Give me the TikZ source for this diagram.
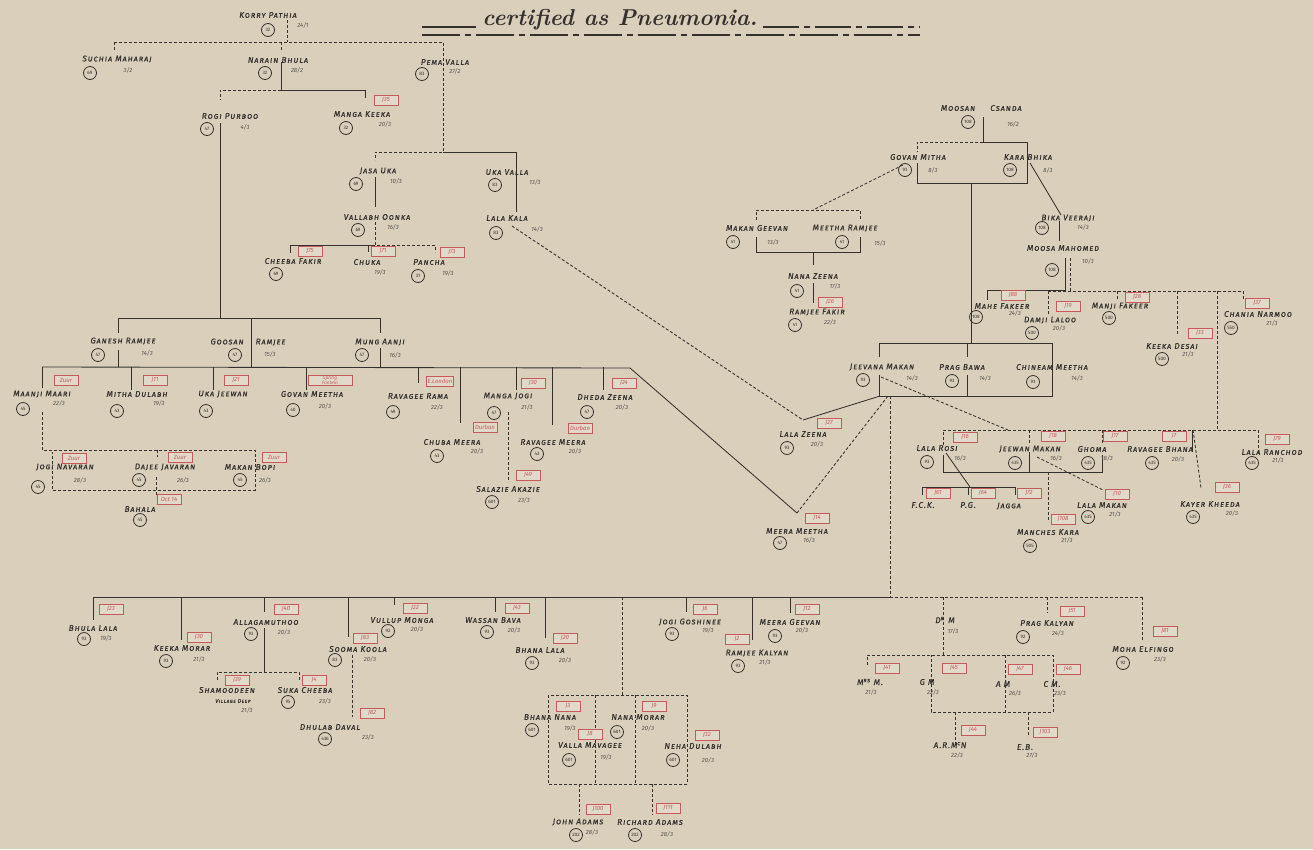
\documentclass[tikz,border=0pt]{standalone}
\usepackage{xcolor}
\usepackage{fontspec}
\newfontfamily\lblfont{Fira Sans}[LetterSpace=11, FakeBold=0.4]
\newfontfamily\dtfont{Fira Sans}
\definecolor{paper}{RGB}{218,207,187}
\definecolor{ink}{RGB}{52,49,47}
\definecolor{redink}{RGB}{198,90,90}
\tikzset{
 nm/.style={font=\lblfont\fontsize{8.3}{9}\selectfont\itshape\scshape, text=ink, inner sep=0.5pt},
 circ/.style={circle, draw=ink, line width=0.8pt, minimum size=13pt, inner sep=0pt, font=\dtfont\fontsize{4.8}{5}\selectfont, text=ink},
 dt/.style={font=\dtfont\fontsize{6}{6.5}\selectfont\itshape, text=ink!85, inner sep=0.5pt},
 rbox/.style={draw=redink, line width=0.6pt, text=redink, font=\dtfont\fontsize{6}{6.5}\selectfont\itshape, minimum width=24pt, minimum height=10pt, inner sep=1pt, fill=paper!80!white, align=center},
 ln/.style={draw=ink, line width=0.85pt},
 dl/.style={draw=ink, line width=0.85pt, dash pattern=on 3pt off 2pt},
}
\newcommand\PN[4]{\node[nm] (#1) at (#2,#3) {#4};}
\newcommand\PC[4]{\node[circ] (#1) at (#2,#3) {#4};}
\newcommand\PD[4]{\node[dt] (#1) at (#2,#3) {#4};}
\newcommand\RB[4]{\node[rbox] (#1) at (#2,#3) {#4};}
\newcommand\CO[3]{\coordinate (#1) at (#2,#3);}
\newcommand\TK[5]{\coordinate (#1a) at (#2,#3); \coordinate (#1b) at (#2,#4); \draw[#5] (#1a)--(#1b);}
\begin{document}
\begin{tikzpicture}[x=1pt,y=-1pt]
\fill[paper] (0,0) rectangle (1313,849);
\useasboundingbox (0,0) rectangle (1313,849);

% ---------------- title ----------------
\node[font=\fontsize{23}{26}\selectfont\bfseries\itshape, text=ink, inner sep=0pt] (title) at (620,20) {certified as Pneumonia.};
\CO{tlA}{422}{27}\CO{tlB}{476}{27}\CO{trA}{763}{27}\CO{trB}{920}{27}
\CO{blA}{422}{35}\CO{blB}{920}{35}
\draw[ink, line width=1.2pt] (tlA)--(tlB);
\draw[ink, line width=1.2pt, dash pattern=on 36pt off 5pt on 6pt off 5pt] (trA)--(trB);
\draw[ink, line width=1.2pt, dash pattern=on 38pt off 5pt on 6pt off 5pt] (blA)--(blB);

% ---------------- connectors: top left family ----------------
\CO{kpA}{287}{20}\CO{kpB}{287}{42}
\CO{tL}{114}{42}\CO{tR}{443}{42}\CO{smT}{114}{50}
\CO{nbS}{281}{42}\CO{nbT}{281}{50}
\CO{nbA}{281}{62}\CO{nbB}{281}{90}\CO{mkA}{365}{90}\CO{mkB}{365}{98}
\CO{rpA}{220}{90}\CO{rpB}{220}{100}\CO{rpC}{220}{123}\CO{rpD}{220}{318}
\CO{pvB}{443}{152}\CO{juA}{375}{152}\CO{juB}{375}{160}\CO{uvA}{516}{152}\CO{uvB}{516}{212}
\CO{juC}{375}{177}\CO{juD}{375}{207}
\CO{voA}{375}{222}\CO{voB}{375}{245}\CO{paA}{435}{245}\CO{paB}{435}{252}
\CO{cfA}{290}{245}\CO{cfB}{290}{253}\CO{chA}{368}{245}\CO{chB}{368}{252}
\CO{lkA}{512}{226}\CO{lzA}{803}{420}\CO{jmBL}{880}{396}
\draw[dl] (kpA)--(kpB);
\draw[dl] (tL)--(tR)--(pvB)--(juA)--(juB);
\draw[dl] (tL)--(smT);
\draw[dl] (nbS)--(nbT);
\draw[ln] (nbA)--(nbB)--(mkA)--(mkB);
\draw[dl] (nbB)--(rpA)--(rpB);
\draw[ln] (rpC)--(rpD);
\draw[ln] (pvB)--(uvA)--(uvB);
\draw[ln] (juC)--(juD);
\draw[dl] (voA)--(voB)--(paA)--(paB);
\draw[ln] (voB)--(cfA)--(cfB);
\draw[ln] (chA)--(chB);
\draw[dl] (lkA)--(lzA);
\draw[ln] (lzA)--(jmBL);

% ---------------- connectors: top right family ----------------
\CO{msA}{983}{117}\CO{msB}{983}{142}\CO{gmA}{917}{142}\CO{gmB}{917}{152}\CO{kbA}{1027}{142}\CO{kbB}{1027}{183}
\CO{gmC}{917}{163}\CO{gmD}{917}{183}
\CO{kbC}{1030}{163}\CO{bkA}{1061}{215}
\CO{mmA}{1065}{258}\CO{mmB}{1065}{290}\CO{mfA}{987}{290}\CO{mfB}{987}{300}
\CO{dlA}{1048}{291}\CO{cnA}{1243}{291}
\draw[ln] (msA)--(msB)--(kbA)--(kbB)--(gmD)--(gmC);
\draw[dl] (msB)--(gmA)--(gmB);
\TK{bv}{971}{183}{343}{ln}
\draw[ln] (kbC)--(bkA);
\TK{bk}{1059}{221}{241}{ln}
\draw[ln] (mmA)--(mmB)--(mfA)--(mfB);
\TK{mmd}{1070}{258}{291}{dl}
\draw[dl] (dlA)--(cnA);
\TK{dlt}{1048}{291}{315}{dl}
\TK{mjt}{1117}{291}{300}{dl}
\TK{kdt}{1177}{291}{335}{dl}
\TK{kvt}{1217}{291}{430}{dl}
\TK{cnt}{1243}{291}{300}{dl}

\CO{gmE}{903}{165}\CO{mgA}{813}{210}\CO{mgL}{756}{210}\CO{mgR}{860}{210}\CO{mgLb}{756}{220}\CO{mgRb}{860}{220}
\CO{mgLc}{756}{237}\CO{mgLd}{756}{252}\CO{mgRd}{860}{252}\CO{mgRc}{860}{237}
\draw[dl] (gmE)--(mgA);
\draw[dl] (mgLb)--(mgL)--(mgR)--(mgRb);
\draw[ln] (mgLc)--(mgLd)--(mgRd)--(mgRc);
\TK{nz1}{813}{252}{265}{ln}
\TK{nz2}{813}{283}{303}{ln}

% Jeevana Makan row
\CO{jvA}{879}{357}\CO{jvB}{879}{343}\CO{cmA}{1052}{343}\CO{cmB}{1052}{396}\CO{jvC}{879}{375}\CO{jvD}{879}{396}
\draw[ln] (jvA)--(jvB)--(cmA)--(cmB)--(jvD)--(jvC);
\TK{pb1}{967}{343}{357}{ln}
\TK{pb2}{967}{375}{396}{ln}
\CO{jvE}{881}{377}\CO{lrJ}{1008}{430}
\draw[dl] (jvE)--(lrJ);
\CO{rowE}{630}{368}\CO{meA}{797}{513}\CO{jvF}{888}{396}
\draw[ln] (rowE)--(meA);
\draw[dl] (meA)--(jvF);
\TK{jvv}{890}{396}{597}{dl}

% lower right group
\CO{lrA}{943}{430}\CO{lcA}{1258}{430}\CO{lrB}{943}{445}\CO{lcB}{1258}{455}
\draw[dl] (lrB)--(lrA)--(lcA)--(lcB);
\TK{jwt}{1029}{430}{445}{dl}
\TK{ght}{1102}{430}{445}{dl}
\TK{rbt}{1192}{430}{452}{ln}
\CO{rbK}{1193}{430}\CO{kkA}{1201}{488}
\draw[dl] (rbK)--(kkA);
\CO{lrC}{943}{455}\CO{lrD}{943}{472}\CO{ghD}{1102}{472}\CO{ghC}{1102}{455}
\draw[ln] (lrC)--(lrD)--(ghD)--(ghC);
\TK{jwb}{1029}{452}{472}{ln}
\CO{lrE}{946}{453}\CO{pgA}{970}{487}
\draw[ln] (lrE)--(pgA);
\CO{fcA}{922}{495}\CO{fcB}{922}{487}\CO{jgB}{1015}{487}\CO{jgA}{1015}{495}
\draw[ln] (fcA)--(fcB)--(jgB)--(jgA);
\TK{pgt}{968}{487}{495}{ln}
\TK{mct}{1048}{472}{520}{dl}
\CO{jwE}{1037}{457}\CO{lmA}{1103}{490}
\draw[dl] (jwE)--(lmA);

% ---------------- Rogi Purboo descendants ----------------
\CO{rgL}{118}{318}\CO{rgR}{380}{318}
\draw[ln] (rgL)--(rgR);
\TK{gr1}{118}{318}{333}{ln}
\TK{gr2}{118}{350}{367}{ln}
\TK{go}{251}{318}{367}{ln}
\TK{mu1}{380}{318}{333}{ln}
\TK{mu2}{380}{348}{367}{ln}
\CO{rwL}{42}{367}
\draw[ln] (rwL)--(rowE);
\TK{c1}{42}{367}{388}{ln}
\TK{c2}{131}{367}{390}{ln}
\TK{c3}{213}{367}{390}{ln}
\TK{c4}{306}{367}{390}{ln}
\TK{c5}{418}{367}{383}{ln}
\TK{c6}{460}{367}{423}{ln}
\TK{c7}{516}{367}{390}{ln}
\TK{c8}{552}{367}{425}{ln}
\TK{c9}{603}{367}{390}{ln}
\TK{mjd}{508}{412}{482}{dl}
\CO{maA}{42}{412}\CO{maB}{42}{450}\CO{maC}{255}{450}\CO{maD}{255}{490}\CO{maE}{52}{490}\CO{maF}{52}{452}
\draw[dl] (maA)--(maB)--(maC)--(maD)--(maE)--(maF);
\TK{djt}{157}{450}{457}{dl}
\TK{bht}{156}{477}{497}{dl}

% ---------------- bottom row ----------------
\CO{bL}{93}{597}\CO{bM}{890}{597}\CO{bR}{1142}{597}
\draw[ln] (bL)--(bM);
\draw[dl] (bM)--(bR);
\TK{t1}{93}{597}{620}{ln}
\TK{t2}{181}{597}{640}{ln}
\TK{t3}{264}{597}{612}{ln}
\TK{t4}{348}{597}{637}{ln}
\TK{t5}{394}{597}{605}{ln}
\TK{t6}{495}{597}{612}{ln}
\TK{t7}{545}{597}{638}{ln}
\TK{t8}{622}{597}{695}{dl}
\TK{t9}{686}{597}{612}{ln}
\TK{t10}{752}{597}{640}{ln}
\TK{t11}{790}{597}{613}{ln}
\TK{t12}{943}{597}{655}{dl}
\TK{t13}{1047}{597}{613}{dl}
\TK{t14}{1142}{597}{640}{dl}
\TK{alv}{264}{628}{672}{ln}
\CO{shA}{217}{680}\CO{shB}{217}{672}\CO{scB}{299}{672}\CO{scA}{299}{680}
\draw[dl] (shA)--(shB)--(scB)--(scA);
\TK{skv}{352}{655}{717}{dl}
\CO{bxA}{548}{695}\CO{bxB}{687}{784}
\draw[dl] (bxA) rectangle (bxB);
\TK{bx1}{595}{695}{784}{dl}
\TK{bx2}{635}{695}{784}{dl}
\TK{bx3}{579}{784}{815}{dl}
\TK{bx4}{652}{784}{815}{dl}
\CO{dmA}{867}{665}\CO{dmB}{867}{655}\CO{dmC}{1053}{655}\CO{dmD}{1053}{712}\CO{dmE}{931}{712}\CO{dmF}{931}{655}
\draw[dl] (dmA)--(dmB)--(dmC)--(dmD)--(dmE)--(dmF);
\TK{amv}{1005}{655}{712}{dl}
\TK{arv}{955}{712}{747}{dl}
\TK{ebv}{1028}{712}{737}{dl}

% ---------------- people: top left ----------------
\PN{nkp}{268}{15}{Korry Pathia}\PC{ckp}{268}{30}{32}\PD{dkp}{303}{25}{24/1}
\PN{nsm}{117}{59}{Suchia Maharaj}\PC{csm}{90}{73}{69}\PD{dsm}{128}{70}{3/2}
\PN{nnb}{278}{60}{Narain Bhula}\PC{cnb}{265}{73}{32}\PD{dnb}{297}{70}{28/2}
\PN{npv}{445}{62}{Pema Valla}\PC{cpv}{422}{74}{83}\PD{dpv}{455}{71}{27/2}
\PN{nrp}{230}{116}{Rogi Purboo}\PC{crp}{207}{129}{47}\PD{drp}{245}{127}{4/3}
\PN{nmk}{362}{114}{Manga Keeka}\PC{cmk}{346}{128}{32}\PD{dmk}{385}{124}{20/3}\RB{rmk}{386}{100}{J35}
\PN{nju}{378}{171}{Jasa Uka}\PC{cju}{356}{184}{69}\PD{dju}{396}{181}{10/3}
\PN{nuv}{507}{172}{Uka Valla}\PC{cuv}{495}{185}{83}\PD{duv}{535}{182}{13/3}
\PN{nvo}{377}{217}{Vallabh Oonka}\PC{cvo}{358}{230}{69}\PD{dvo}{393}{227}{16/3}
\PN{nlk}{507}{218}{Lala Kala}\PC{clk}{496}{233}{83}\PD{dlk}{537}{229}{14/3}
\PN{ncf}{293}{261}{Cheeba Fakir}\PC{ccf}{276}{274}{69}\RB{rcf}{310}{251}{J75}
\PN{nch}{367}{262}{Chuka}\PD{dch}{380}{272}{19/3}\RB{rch}{383}{251}{J71}
\PN{npa}{429}{262}{Pancha}\PC{cpa}{418}{276}{31}\PD{dpa}{448}{273}{19/3}\RB{rpa}{452}{252}{J73}

% ---------------- people: top right ----------------
\PN{nms1}{958}{108}{Moosan}\PN{nms2}{1006}{108}{Csanda}\PC{cms}{968}{122}{108}\PD{dms}{1013}{124}{16/2}
\PN{ngm}{918}{157}{Govan Mitha}\PC{cgm}{905}{170}{93}\PD{dgm}{933}{170}{8/3}
\PN{nkb}{1028}{157}{Kara Bhika}\PC{ckb}{1010}{170}{108}\PD{dkb}{1048}{170}{8/3}
\PN{nbk}{1068}{218}{Bika Veeraji}\PC{cbk}{1042}{228}{108}\PD{dbk}{1083}{227}{14/3}
\PN{nmm}{1063}{248}{Moosa Mahomed}\PC{cmm}{1052}{270}{108}\PD{dmm}{1088}{261}{10/3}
\PN{nmg}{757}{228}{Makan Geevan}\PC{cmg}{733}{242}{41}\PD{dmg}{773}{242}{13/3}
\PN{nmr}{845}{228}{Meetha Ramjee}\PC{cmr}{842}{242}{41}\PD{dmr}{880}{243}{15/3}
\PN{nnz}{813}{276}{Nana Zeena}\PC{cnz}{797}{291}{41}\PD{dnz}{835}{286}{17/3}
\PN{nrf}{817}{312}{Ramjee Fakir}\PC{crf}{795}{325}{41}\PD{drf}{830}{322}{22/3}\RB{rrf}{830}{302}{J26}
\PN{nmf}{1002}{306}{Mahe Fakeer}\PC{cmf}{976}{317}{108}\PD{dmf}{1015}{313}{24/3}\RB{rmf}{1013}{295}{J88}
\PN{ndl}{1050}{320}{Damji Laloo}\PC{cdl}{1032}{333}{500}\PD{ddl}{1059}{328}{20/3}\RB{rdl}{1068}{306}{J19}
\PN{nmj}{1120}{306}{Manji Fakeer}\PC{cmj}{1109}{318}{500}\RB{rmj}{1137}{297}{J28}
\PN{nkd}{1172}{346}{Keeka Desai}\PC{ckd}{1162}{359}{500}\PD{dkd}{1188}{354}{21/3}\RB{rkd}{1200}{333}{J33}
\PN{ncn}{1258}{314}{Chania Narmoo}\PC{ccn}{1231}{328}{550}\PD{dcn}{1272}{323}{21/3}\RB{rcn}{1257}{303}{J37}
\PN{njv}{882}{367}{Jeevana Makan}\PC{cjv}{863}{380}{93}\PD{djv}{912}{378}{14/3}
\PN{npb}{962}{367}{Prag Bawa}\PC{cpb}{952}{381}{93}\PD{dpb}{985}{378}{14/3}
\PN{ncm}{1052}{367}{Chineam Meetha}\PC{ccm}{1033}{382}{93}\PD{dcm}{1077}{378}{14/3}
\PN{nlz}{803}{434}{Lala Zeena}\PC{clz}{787}{448}{93}\PD{dlz}{817}{444}{20/3}\RB{rlz}{829}{423}{J27}
\PN{nme}{797}{531}{Meera Meetha}\PC{cme}{780}{543}{47}\PD{dme}{809}{540}{16/3}\RB{rme}{817}{518}{J14}
\PN{nlr}{937}{448}{Lala Rosi}\PC{clr}{927}{462}{93}\PD{dlr}{960}{458}{16/3}\RB{rlr}{965}{437}{J16}
\PN{njw}{1030}{449}{Jeewan Makan}\PC{cjw}{1015}{463}{435}\PD{djw}{1056}{458}{16/3}\RB{rjw}{1053}{436}{J18}
\PN{ngh}{1092}{449}{Ghoma}\PC{cgh}{1088}{463}{435}\PD{dgh}{1107}{458}{18/3}\RB{rgh}{1115}{436}{J17}
\PN{nrb}{1160}{449}{Ravagee Bhana}\PC{crb}{1152}{463}{435}\PD{drb}{1178}{459}{20/3}\RB{rrb}{1174}{436}{J7}
\PN{nlc}{1272}{452}{Lala Ranchod}\PC{clc}{1252}{463}{435}\PD{dlc}{1278}{460}{21/3}\RB{rlc}{1277}{439}{J79}
\PN{nfc}{923}{505}{F.C.K.}\RB{rfc}{938}{493}{J61}
\PN{npg}{968}{505}{P.G.}\RB{rpg}{983}{493}{J64}
\PN{njg}{1009}{506}{Jagga}\RB{rjg}{1029}{493}{J72}
\PN{nmc}{1048}{532}{Manches Kara}\PC{cmc}{1030}{546}{505}\PD{dmc}{1067}{540}{21/3}\RB{rmc}{1063}{519}{J108}
\PN{nlm}{1102}{505}{Lala Makan}\PC{clm}{1088}{517}{435}\PD{dlm}{1115}{514}{21/3}\RB{rlm}{1117}{494}{J10}
\PN{nkk}{1210}{504}{Kayer Kheeda}\PC{ckk}{1193}{517}{435}\PD{dkk}{1232}{513}{20/3}\RB{rkk}{1227}{487}{J36}

% ---------------- people: middle left ----------------
\PN{ngr}{123}{341}{Ganesh Ramjee}\PC{cgr}{98}{355}{47}\PD{dgr}{147}{353}{14/3}
\PN{ngo}{248}{342}{Goosan\hspace{12pt}Ramjee}\PC{cgo}{235}{355}{47}\PD{dgo}{270}{354}{15/3}
\PN{nmu}{380}{342}{Mung Aanji}\PC{cmu}{362}{355}{47}\PD{dmu}{395}{355}{16/3}
\PN{nma}{42}{394}{Maanji Maari}\PC{cma}{23}{409}{45}\PD{dma}{59}{403}{22/3}\RB{rma}{66}{380}{Zuur}
\PN{nmd}{137}{394}{Mitha Dulabh}\PC{cmd}{117}{411}{43}\PD{dmd}{159}{403}{19/3}\RB{rmd}{155}{380}{J11}
\PN{nuj}{223}{394}{Uka Jeewan}\PC{cuj}{206}{411}{43}\RB{ruj}{236}{380}{J21}
\PN{ngv}{312}{394}{Govan Meetha}\PC{cgv}{293}{410}{40}\PD{dgv}{325}{406}{20/3}
\node[rbox, font=\dtfont\fontsize{4.8}{5}\selectfont\itshape, minimum width=44pt, inner sep=0.5pt] (rgv) at (330,380) {Spring\\Fontein};
\PN{nrr}{418}{396}{Ravagee Rama}\PC{crr}{393}{412}{49}\PD{drr}{437}{407}{22/3}\RB{rrr}{440}{381}{E.London}
\PN{nmgj}{508}{396}{Manga Jogi}\PC{cmgj}{494}{413}{47}\PD{dmgj}{527}{407}{21/3}\RB{rmgj}{533}{383}{J30}
\PN{ndz}{605}{397}{Dheda Zeena}\PC{cdz}{587}{412}{47}\PD{ddz}{622}{407}{20/3}\RB{rdz}{624}{383}{J24}
\PN{ncb}{452}{442}{Chuba Meera}\PC{ccb}{437}{456}{43}\PD{dcb}{477}{451}{20/3}\RB{rcb}{485}{427}{Durban}
\PN{nrv}{553}{442}{Ravagee Meera}\PC{crv}{537}{454}{43}\PD{drv}{575}{451}{20/3}\RB{rrv}{580}{428}{Durban}
\PN{nsa}{508}{489}{Salazie Akazie}\PC{csa}{492}{502}{601}\PD{dsa}{524}{500}{23/3}\RB{rsa}{528}{475}{J49}
\PN{njn}{65}{467}{Jogi Navaran}\PC{cjn}{38}{487}{45}\PD{djn}{80}{480}{28/3}\RB{rjn}{74}{458}{Zuur}
\PN{ndj}{165}{467}{Dajee Javaran}\PC{cdj}{139}{480}{45}\PD{ddj}{183}{480}{26/3}\RB{rdj}{180}{457}{Zuur}
\PN{nmb}{250}{467}{Makan Bopi}\PC{cmb}{240}{480}{45}\PD{dmb}{265}{480}{26/3}\RB{rmb}{274}{457}{Zuur}
\PN{nbh}{140}{509}{Bahala}\PC{cbh}{140}{520}{45}\RB{rbh}{169}{499}{Oct 14}

% ---------------- people: bottom row ----------------
\PN{nbl}{93}{628}{Bhula Lala}\PC{cbl}{84}{639}{93}\PD{dbl}{106}{638}{19/3}\RB{rbl}{111}{609}{J23}
\PN{nkm}{182}{648}{Keeka Morar}\PC{ckm}{166}{661}{93}\PD{dkm}{199}{659}{21/3}\RB{rkm}{199}{637}{J30}
\PN{nal}{266}{622}{Allagamuthoo}\PC{cal}{251}{634}{93}\PD{dal}{284}{632}{20/3}\RB{ral}{286}{609}{J40}
\PN{nsh}{227}{690}{Shamoodeen}\node[nm, font=\lblfont\fontsize{5.2}{5.5}\selectfont\itshape\scshape] (vsh) at (233,701) {Village Deep};\PD{dsh}{247}{710}{21/3}\RB{rsh}{237}{680}{J39}
\PN{nsc}{305}{690}{Suka Cheeba}\PC{csc}{288}{702}{95}\PD{dsc}{325}{701}{23/3}\RB{rsc}{314}{680}{J4}
\PN{nsk}{358}{649}{Sooma Koola}\PC{csk}{335}{660}{83}\PD{dsk}{370}{659}{20/3}\RB{rsk}{365}{638}{J83}
\PN{ndd}{330}{727}{Dhulab Daval}\PC{cdd}{325}{739}{436}\PD{ddd}{368}{737}{23/3}\RB{rdd}{372}{713}{J82}
\PN{nvm}{402}{620}{Vullup Monga}\PC{cvm}{388}{631}{92}\PD{dvm}{417}{629}{20/3}\RB{rvm}{415}{608}{J22}
\PN{nwb}{493}{620}{Wassan Bava}\PC{cwb}{487}{632}{93}\PD{dwb}{514}{630}{20/3}\RB{rwb}{517}{608}{J43}
\PN{nbhl}{540}{650}{Bhana Lala}\PC{cbhl}{532}{663}{93}\PD{dbhl}{565}{660}{20/3}\RB{rbhl}{565}{638}{J20}
\PN{nbn}{550}{717}{Bhana Nana}\PC{cbn}{532}{730}{601}\PD{dbn}{570}{728}{19/3}\RB{rbn}{568}{706}{J3}
\PN{nvv}{590}{745}{Valla Mavagee}\PC{cvv}{569}{760}{601}\PD{dvv}{606}{757}{19/3}\RB{rvv}{590}{734}{J8}
\PN{nnm}{638}{717}{Nana Morar}\PC{cnm}{617}{732}{601}\PD{dnm}{648}{728}{20/3}\RB{rnm}{654}{706}{J9}
\PN{nnd}{693}{746}{Neha Dulabh}\PC{cnd}{673}{760}{601}\PD{dnd}{708}{760}{20/3}\RB{rnd}{707}{735}{J32}
\PN{nja}{578}{822}{John Adams}\PC{cja}{576}{835}{202}\PD{dja}{592}{832}{28/3}\RB{rja}{598}{809}{J100}
\PN{nra}{650}{822}{Richard Adams}\PC{cra}{635}{835}{202}\PD{dra}{667}{834}{28/3}\RB{rra}{668}{808}{J111}
\PN{njgo}{690}{622}{Jogi Goshinee}\PC{cjgo}{672}{634}{93}\PD{djgo}{708}{630}{19/3}\RB{rjgo}{705}{609}{J6}
\PN{nrk}{757}{653}{Ramjee Kalyan}\PC{crk}{738}{666}{93}\PD{drk}{765}{662}{21/3}\RB{rrk}{737}{639}{J2}
\PN{nmgv}{790}{622}{Meera Geevan}\PC{cmgv}{775}{636}{93}\PD{dmgv}{802}{630}{20/3}\RB{rmgv}{807}{609}{J12}
\PN{ndr}{945}{620}{D\textsuperscript{r}\hspace{4pt}M}\PD{ddr}{953}{631}{17/3}
\PN{nmrs}{870}{682}{M\textsuperscript{rs} M.}\PD{dmrs}{871}{692}{21/3}\RB{rmrs}{887}{668}{J41}
\PN{ngmm}{927}{682}{G M}\PD{dgmm}{933}{692}{22/3}\RB{rgmm}{954}{668}{J45}
\PN{nam}{1003}{684}{A M}\PD{dam}{1015}{693}{26/3}\RB{ram}{1020}{669}{J47}
\PN{ncmm}{1052}{684}{C M.}\PD{dcmm}{1060}{693}{23/3}\RB{rcmm}{1068}{669}{J46}
\PN{narm}{950}{745}{A.R.M\textsuperscript{c}N}\PD{darm}{957}{755}{22/3}\RB{rarm}{973}{730}{J44}
\PN{neb}{1025}{747}{E.B.}\PD{deb}{1032}{755}{27/3}\RB{reb}{1045}{732}{J103}
\PN{npk}{1047}{623}{Prag Kalyan}\PC{cpk}{1023}{637}{92}\PD{dpk}{1058}{633}{24/3}\RB{rpk}{1072}{611}{J51}
\PN{nmh}{1143}{649}{Moha Elfingo}\PC{cmh}{1123}{663}{92}\PD{dmh}{1160}{659}{23/3}\RB{rmh}{1165}{631}{J81}
\end{tikzpicture}
\end{document}
